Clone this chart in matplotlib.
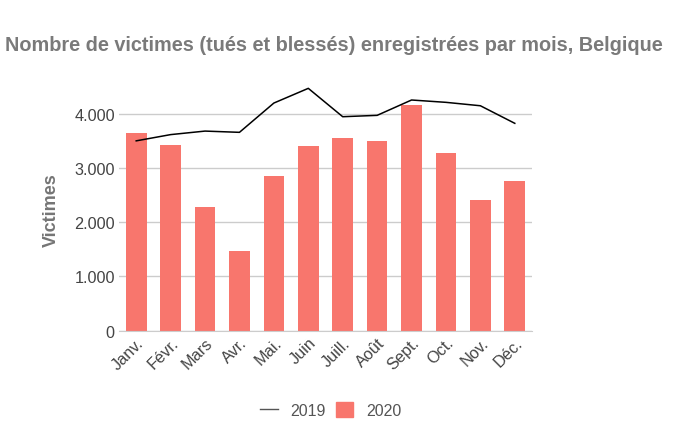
import matplotlib
matplotlib.use("Agg")
import matplotlib.pyplot as plt
from matplotlib.lines import Line2D
from matplotlib.patches import Patch
from matplotlib.ticker import FuncFormatter

months = ["Janv.", "Févr.", "Mars", "Avr.", "Mai.", "Juin",
          "Juill.", "Août", "Sept.", "Oct.", "Nov.", "Déc."]
victims_2020 = [3640, 3430, 2285, 1475, 2855, 3400, 3550, 3495, 4160, 3270, 2410, 2755]
victims_2019 = [3500, 3615, 3680, 3657, 4197, 4468, 3945, 3970, 4253, 4210, 4147, 3823]

plt.rcParams["font.family"] = ["Liberation Sans", "DejaVu Sans"]

fig = plt.figure(figsize=(6.82, 4.35), dpi=100)
ax = fig.add_axes([119 / 682, 0.2375, 413 / 682, 0.5611])

x = list(range(len(months)))
ax.bar(x, victims_2020, width=0.6, color="#F8766D", zorder=2)
ax.plot(x, victims_2019, color="black", linewidth=1.1, zorder=3)

ax.set_xlim(-0.5, 11.5)
ax.set_ylim(0, 4500)
ax.set_yticks([0, 1000, 2000, 3000, 4000])
ax.yaxis.set_major_formatter(FuncFormatter(lambda v, _: f"{int(v):,}".replace(",", ".")))
ax.grid(axis="y", color="#cccccc", linewidth=1, zorder=0)
ax.set_axisbelow(True)
for s in ("left", "right", "top"):
    ax.spines[s].set_visible(False)
ax.spines["bottom"].set_color("#cccccc")
ax.tick_params(length=0, labelsize=11.7, colors="#444444", pad=3)
ax.set_xticks(x)
ax.set_xticklabels(months, rotation=45, ha="right", rotation_mode="anchor")

ax.set_ylabel("Victimes", fontsize=13, fontweight="bold", color="#757575", labelpad=10)

fig.text(0.489, 0.895, "Nombre de victimes (tués et blessés) enregistrées par mois, Belgique",
         ha="center", va="center", fontsize=14.3, fontweight="bold", color="#7a7a7a")

handles = [Line2D([], [], color="#555555", linewidth=1),
           Patch(color="#F8766D")]
fig.legend(handles, ["2019", "2020"], loc="center", bbox_to_anchor=(0.485, 0.055),
           ncol=2, frameon=False, fontsize=11.5, handlelength=1.1, handleheight=1.1,
           columnspacing=0.6, handletextpad=0.8, labelcolor="#555555")

fig.savefig("out.png", dpi=100)
